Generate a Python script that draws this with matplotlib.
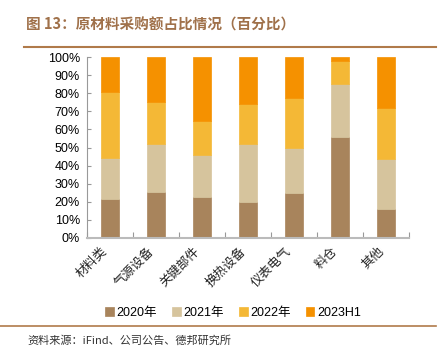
import matplotlib
matplotlib.use("Agg")
import matplotlib.pyplot as plt
import numpy as np

categories = ["材料类", "气源设备", "关键部件", "换热设备", "仪表电气", "料仓", "其他"]
series_names = ["2020年", "2021年", "2022年", "2023H1"]
v2020 = [21.3, 25.3, 22.7, 19.8, 25.1, 55.6, 15.9]
v2021 = [22.9, 26.5, 23.0, 32.3, 24.8, 29.4, 27.7]
v2022 = [36.6, 23.4, 19.0, 22.0, 27.5, 13.0, 28.1]
v2023 = [19.2, 24.8, 35.3, 25.9, 22.6, 2.0, 28.3]
yticks = [0, 10, 20, 30, 40, 50, 60, 70, 80, 90, 100]
colors = ["#A8845C", "#D6C49D", "#F4B836", "#F59100"]

plt.rcParams['font.family'] = ['Liberation Sans', 'Noto Sans CJK SC', 'DejaVu Sans']

fig = plt.figure(figsize=(4.43, 3.53), dpi=100)
ax = fig.add_axes([87/443, 1-238/353, 322/443, 181/353])

x = np.arange(len(categories))
bottom = np.zeros(len(categories))
handles = []
for vals, c, name in zip([v2020, v2021, v2022, v2023], colors, series_names):
    b = ax.bar(x, vals, width=0.4, bottom=bottom, color=c, label=name,
               edgecolor=c, linewidth=0.5)
    bottom += np.array(vals)
    handles.append(b)

ax.set_xlim(-0.5, len(categories) - 0.5)
ax.set_ylim(0, 100)
ax.set_yticks(yticks)
ax.set_yticklabels([f"{t}%" for t in yticks], fontsize=9)
ax.set_xticks(np.arange(-0.5, len(categories)), minor=False)
ax.set_xticklabels([])
ax.set_xticks(x, minor=True)
ax.set_xticklabels(categories, minor=True, rotation=45, ha='right', va='top',
                   fontsize=9, fontweight='light', color='#222222',
                   family=['Noto Sans CJK SC', 'DejaVu Sans'])
ax.tick_params(axis='x', which='minor', length=0, pad=5)
ax.tick_params(axis='x', which='major', length=4, color='#999999', direction='in')
ax.tick_params(axis='y', length=3, color='#999999', direction='in', pad=5)
for s in ['top', 'right']:
    ax.spines[s].set_visible(False)
ax.spines['left'].set_color('#999999')
ax.spines['bottom'].set_color('#BBBBBB')
ax.spines['bottom'].set_linewidth(1.5)

leg = fig.legend(handles=handles, labels=series_names, loc='center',
                 bbox_to_anchor=(233/443, 1-313/353), ncol=4, frameon=False,
                 handlelength=0.7, handleheight=0.7,
                 handletextpad=0.2, columnspacing=1.2,
                 prop={'family': ['Liberation Sans', 'Noto Sans CJK SC'], 'size': 9})

title_color = "#A0714A"
fig.text(26/443, 1-25/353, "图 13：原材料采购额占比情况（百分比）", fontsize=10.5,
         fontweight='bold', color=title_color, va='center', ha='left',
         family=['Noto Sans CJK SC', 'DejaVu Sans'])
fig.add_artist(plt.Line2D([24/443, 436/443], [1-47/353, 1-47/353],
                          color="#B07A4A", linewidth=1.5))
fig.add_artist(plt.Line2D([0, 436/443], [1-326/353, 1-326/353],
                          color="#B07A4A", linewidth=1.2))
fig.text(27/443, 1-341/353, "资料来源：iFind、公司公告、德邦研究所", fontsize=8,
         color="#333333", va='center', ha='left',
         family=['Noto Sans CJK SC', 'DejaVu Sans'])

fig.savefig("out.png", dpi=100)
